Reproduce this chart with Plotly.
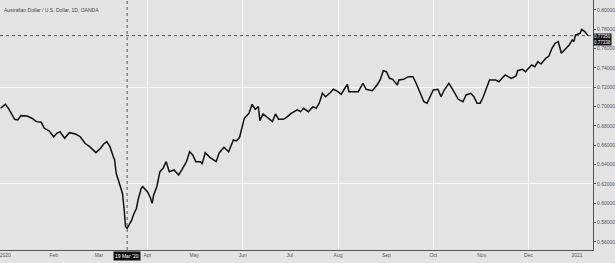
import plotly.graph_objects as go

TITLE = "Australian Dollar / U.S. Dollar, 1D, OANDA"

DATES = [
    "2019-12-29", "2020-01-01", "2020-01-03", "2020-01-05", "2020-01-07", "2020-01-09", "2020-01-11",
    "2020-01-15", "2020-01-18", "2020-01-21", "2020-01-24", "2020-01-26", "2020-01-29",
    "2020-02-01", "2020-02-03", "2020-02-05", "2020-02-08", "2020-02-11", "2020-02-15", "2020-02-18",
    "2020-02-21", "2020-02-24", "2020-02-26", "2020-02-28",
    "2020-03-02", "2020-03-04", "2020-03-06", "2020-03-08", "2020-03-10", "2020-03-11", "2020-03-12",
    "2020-03-14", "2020-03-16", "2020-03-17", "2020-03-18", "2020-03-19", "2020-03-22", "2020-03-23",
    "2020-03-25", "2020-03-26", "2020-03-28", "2020-03-29",
    "2020-04-01", "2020-04-03", "2020-04-04", "2020-04-05", "2020-04-07", "2020-04-09", "2020-04-11",
    "2020-04-13", "2020-04-15", "2020-04-18", "2020-04-21", "2020-04-23", "2020-04-26", "2020-04-28",
    "2020-04-30",
    "2020-05-02", "2020-05-05", "2020-05-06", "2020-05-08", "2020-05-11", "2020-05-15", "2020-05-17",
    "2020-05-20", "2020-05-23", "2020-05-26", "2020-05-28", "2020-05-30",
    "2020-06-02", "2020-06-05", "2020-06-07", "2020-06-09", "2020-06-11", "2020-06-12", "2020-06-14",
    "2020-06-16", "2020-06-20", "2020-06-22", "2020-06-24", "2020-06-27", "2020-06-29",
    "2020-07-02", "2020-07-06", "2020-07-08", "2020-07-10", "2020-07-13", "2020-07-16", "2020-07-18",
    "2020-07-20", "2020-07-22", "2020-07-24", "2020-07-27", "2020-07-29",
    "2020-08-01", "2020-08-03", "2020-08-05", "2020-08-07", "2020-08-08", "2020-08-11", "2020-08-14",
    "2020-08-17", "2020-08-19", "2020-08-23", "2020-08-26", "2020-08-28", "2020-08-30",
    "2020-09-01", "2020-09-03", "2020-09-05", "2020-09-08", "2020-09-09", "2020-09-12", "2020-09-15",
    "2020-09-18", "2020-09-20", "2020-09-23", "2020-09-25", "2020-09-27", "2020-09-29",
    "2020-10-01", "2020-10-04", "2020-10-06", "2020-10-08", "2020-10-11", "2020-10-13", "2020-10-15",
    "2020-10-17", "2020-10-20", "2020-10-22", "2020-10-25", "2020-10-27", "2020-10-29", "2020-10-31",
    "2020-11-02", "2020-11-04", "2020-11-06", "2020-11-10", "2020-11-12", "2020-11-14", "2020-11-16",
    "2020-11-18", "2020-11-20", "2020-11-23", "2020-11-24", "2020-11-27", "2020-11-29",
    "2020-12-01", "2020-12-03", "2020-12-05", "2020-12-07", "2020-12-09", "2020-12-12", "2020-12-14",
    "2020-12-16", "2020-12-18", "2020-12-20", "2020-12-22", "2020-12-24", "2020-12-27", "2020-12-29",
    "2020-12-30", "2020-12-31",
    "2021-01-03", "2021-01-04", "2021-01-06", "2021-01-08",
]

PRICES = [
    0.6983, 0.7024, 0.6983, 0.6931, 0.6869, 0.6862, 0.6907,
    0.6903, 0.6880, 0.6845, 0.6838, 0.6776, 0.6751,
    0.6689, 0.6724, 0.6741, 0.6673, 0.6731, 0.6717, 0.6689,
    0.6621, 0.6586, 0.6552, 0.6524,
    0.6569, 0.6614, 0.6638, 0.6586, 0.6490, 0.6448, 0.6311,
    0.6207, 0.6104, 0.5949, 0.5758, 0.5742, 0.5828, 0.5879,
    0.5949, 0.6034, 0.6155, 0.6172,
    0.6120, 0.6052, 0.6000, 0.6086, 0.6172, 0.6327, 0.6362,
    0.6431, 0.6327, 0.6345, 0.6293, 0.6345, 0.6431, 0.6534,
    0.6500,
    0.6431, 0.6431, 0.6407, 0.6524, 0.6476, 0.6431, 0.6524,
    0.6580, 0.6534, 0.6655, 0.6645, 0.6683,
    0.6880, 0.6931, 0.7024, 0.6973, 0.7000, 0.6855, 0.6924,
    0.6896, 0.6845, 0.6924, 0.6869, 0.6869, 0.6890,
    0.6931, 0.6966, 0.6948, 0.6983, 0.6948, 0.7000, 0.6983,
    0.7035, 0.7138, 0.7103, 0.7144, 0.7180,
    0.7155, 0.7128, 0.7180, 0.7231, 0.7155, 0.7155, 0.7155,
    0.7242, 0.7180, 0.7165, 0.7224, 0.7276, 0.7372,
    0.7362, 0.7293, 0.7283, 0.7224, 0.7276, 0.7283, 0.7310,
    0.7310, 0.7242, 0.7138, 0.7051, 0.7035, 0.7103,
    0.7172, 0.7180, 0.7103, 0.7172, 0.7242, 0.7190, 0.7138,
    0.7076, 0.7051, 0.7121, 0.7138, 0.7103, 0.7035, 0.7035,
    0.7103, 0.7180, 0.7276, 0.7276, 0.7258, 0.7293, 0.7328,
    0.7310, 0.7293, 0.7317, 0.7372, 0.7387, 0.7362,
    0.7397, 0.7431, 0.7413, 0.7465, 0.7441, 0.7500, 0.7524,
    0.7604, 0.7656, 0.7672, 0.7552, 0.7586, 0.7638, 0.7690,
    0.7672, 0.7741,
    0.7759, 0.7800, 0.7776, 0.7735,
]

X_TICK_VALS = ["2020-01-01", "2020-02-01", "2020-03-01", "2020-04-01", "2020-05-01", "2020-06-01",
               "2020-07-01", "2020-08-01", "2020-09-01", "2020-10-01", "2020-11-01", "2020-12-01",
               "2021-01-01"]
X_TICK_TEXT = ["2020", "Feb", "Mar", "Apr", "May", "Jun", "Jul", "Aug", "Sep", "Oct", "Nov", "Dec", "2021"]
Y_TICK_VALS = [0.56, 0.58, 0.60, 0.62, 0.64, 0.66, 0.68, 0.70, 0.72, 0.74, 0.76, 0.78, 0.80]
GRID_X = ["2020-04-01", "2020-06-01", "2020-08-01", "2020-10-01", "2020-12-01"]
GRID_Y = [0.62, 0.72]

CROSS_DATE = "2020-03-19"
CROSS_LABEL = "19 Mar '20"
SECOND_PRICE = 0.77338

X_RANGE = ["2019-12-28 14:40", "2021-01-11 06:00"]
Y_RANGE = [0.5517, 0.81034]

BG = "#e3e3e3"
FONT = "Liberation Sans"

fig = go.Figure()
fig.add_trace(go.Scatter(x=DATES, y=PRICES, mode="lines",
                         line=dict(color="#111111", width=1.5), hoverinfo="skip",
                         showlegend=False))
# invisible trace for grid overlay axes
fig.add_trace(go.Scatter(x=[DATES[0]], y=[PRICES[0]], xaxis="x2", yaxis="y2", mode="markers",
                         marker=dict(opacity=0), showlegend=False, hoverinfo="skip"))

last_price = PRICES[-1]

fig.update_layout(
    width=615, height=263,
    margin=dict(l=0, r=22, t=0, b=13, pad=0),
    paper_bgcolor=BG, plot_bgcolor=BG,
    font=dict(family=FONT, size=5, color="#555555"),
    xaxis=dict(range=X_RANGE, type="date", tickvals=X_TICK_VALS, ticktext=X_TICK_TEXT,
               showgrid=False, zeroline=False, showline=True, linecolor="#555555", linewidth=1,
               ticks="", tickfont=dict(size=5, color="#555555"), automargin=False, fixedrange=True,
               ticklabeloverflow="allow"),
    yaxis=dict(range=Y_RANGE, side="right", tickvals=Y_TICK_VALS, tickformat=".5f",
               showgrid=False, zeroline=False, showline=True, linecolor="#555555", linewidth=1,
               ticks="outside", ticklen=2, tickcolor="#555555",
               tickfont=dict(size=5, color="#555555"), automargin=False, fixedrange=True),
    xaxis2=dict(range=X_RANGE, type="date", overlaying="x", matches="x", tickvals=GRID_X,
                showticklabels=False, showgrid=True, gridcolor="#f7f7f7", gridwidth=1,
                zeroline=False, showline=False, ticks=""),
    yaxis2=dict(range=Y_RANGE, overlaying="y", matches="y", tickvals=GRID_Y,
                showticklabels=False, showgrid=True, gridcolor="#f7f7f7", gridwidth=1,
                zeroline=False, showline=False, ticks="", side="right"),
)

# crosshair lines
fig.add_shape(type="line", xref="x", yref="paper", x0=CROSS_DATE, x1=CROSS_DATE, y0=0, y1=1,
              line=dict(color="#555555", width=1, dash="dot"))
fig.add_shape(type="line", xref="paper", yref="y", x0=0, x1=1, y0=last_price, y1=last_price,
              line=dict(color="#555555", width=1, dash="dot"))

# title
fig.add_annotation(text=TITLE, xref="paper", yref="paper", x=0.004, y=0.96, xanchor="left",
                   yanchor="middle", showarrow=False, font=dict(size=5, color="#444444", family=FONT))

# date crosshair label
fig.add_annotation(text=CROSS_LABEL, xref="x", yref="paper", x=CROSS_DATE, y=0, yanchor="top",
                   xanchor="center", showarrow=False, bgcolor="#111111", borderpad=1,
                   font=dict(size=5, color="#ffffff", family=FONT), yshift=-1)

# price label box
fig.add_annotation(text=f"{last_price:.5f}<br>{SECOND_PRICE:.5f}", xref="paper", yref="y", x=1,
                   y=last_price, xanchor="left", yanchor="top", showarrow=False, bgcolor="#111111",
                   borderpad=0, align="left", yshift=3,
                   font=dict(size=4.5, color="#ffffff", family=FONT))

fig.write_html("out.html")
